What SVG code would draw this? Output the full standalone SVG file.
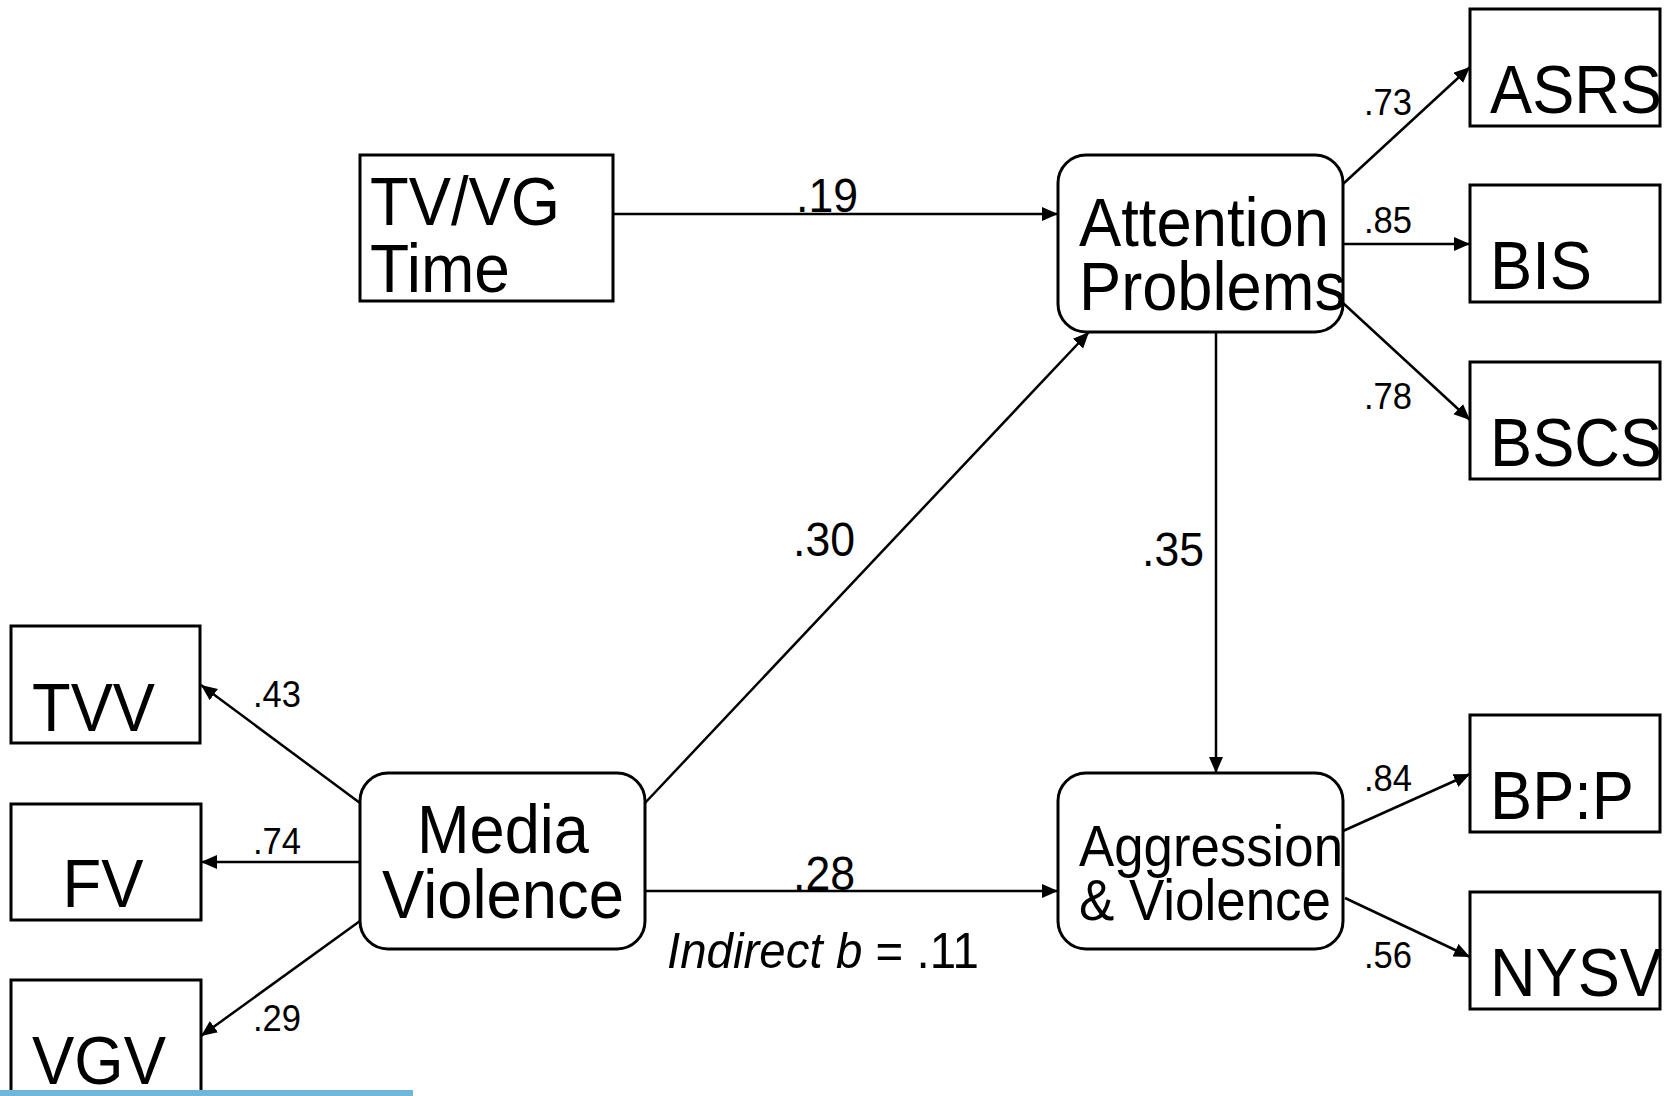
<svg xmlns="http://www.w3.org/2000/svg" width="1667" height="1096" viewBox="0 0 1667 1096">
  <style>
    .box { fill: #ffffff; stroke: #000000; stroke-width: 3; }
    .edge { fill: none; stroke: #000000; stroke-width: 2.5; marker-end: url(#arrow); }
    .big { font-family: "Liberation Sans", Arial, sans-serif; font-size: 68px; fill: #000; }
    .mid { font-family: "Liberation Sans", Arial, sans-serif; font-size: 57px; fill: #000; }
    .coef { font-family: "Liberation Sans", Arial, sans-serif; font-size: 48px; fill: #000; text-anchor: middle; }
    .load { font-family: "Liberation Sans", Arial, sans-serif; font-size: 37px; fill: #000; text-anchor: middle; }
  </style>
  <defs>
    <marker id="arrow" markerUnits="userSpaceOnUse" markerWidth="18" markerHeight="16" refX="16" refY="7" orient="auto">
      <path d="M0,0 L16,7 L0,14 z" fill="#000"/>
    </marker>
  </defs>
  <rect width="1667" height="1096" fill="#ffffff"/>

  <!-- connectors -->
  <g id="connectors">
    <line class="edge" x1="613" y1="214" x2="1058" y2="214"/>
    <line class="edge" x1="645" y1="803" x2="1089" y2="332"/>
    <line class="edge" x1="645" y1="891" x2="1058" y2="891"/>
    <line class="edge" x1="1216" y1="332" x2="1216" y2="773"/>
    <line class="edge" x1="1343" y1="184" x2="1470" y2="67"/>
    <line class="edge" x1="1343" y1="244" x2="1470" y2="244"/>
    <line class="edge" x1="1343" y1="303" x2="1470" y2="420"/>
    <line class="edge" x1="1343" y1="831" x2="1470" y2="774"/>
    <line class="edge" x1="1345" y1="898" x2="1470" y2="957"/>
    <line class="edge" x1="360" y1="803" x2="201" y2="685"/>
    <line class="edge" x1="360" y1="862" x2="201" y2="862"/>
    <line class="edge" x1="360" y1="921" x2="201" y2="1036"/>

    <text class="coef" x="827" y="212" textLength="62" lengthAdjust="spacingAndGlyphs">.19</text>
    <text class="coef" x="824" y="556" textLength="62" lengthAdjust="spacingAndGlyphs">.30</text>
    <text class="coef" x="824" y="890" textLength="62" lengthAdjust="spacingAndGlyphs">.28</text>
    <text class="coef" x="1173" y="566" textLength="62" lengthAdjust="spacingAndGlyphs">.35</text>
    <text transform="translate(667,968) scale(0.95,1)" font-family="Liberation Sans, Arial, sans-serif" font-size="50"><tspan font-style="italic">Indirect b</tspan> = .11</text>

    <text class="load" x="1388" y="115" textLength="48" lengthAdjust="spacingAndGlyphs">.73</text>
    <text class="load" x="1388" y="233" textLength="48" lengthAdjust="spacingAndGlyphs">.85</text>
    <text class="load" x="1388" y="409" textLength="48" lengthAdjust="spacingAndGlyphs">.78</text>
    <text class="load" x="1388" y="791" textLength="48" lengthAdjust="spacingAndGlyphs">.84</text>
    <text class="load" x="1388" y="968" textLength="48" lengthAdjust="spacingAndGlyphs">.56</text>
    <text class="load" x="277" y="707" textLength="48" lengthAdjust="spacingAndGlyphs">.43</text>
    <text class="load" x="277" y="854" textLength="48" lengthAdjust="spacingAndGlyphs">.74</text>
    <text class="load" x="277" y="1031" textLength="48" lengthAdjust="spacingAndGlyphs">.29</text>
  </g>

  <!-- observed predictor -->
  <g id="tvvg-time">
    <rect class="box" x="360" y="155" width="253" height="146"/>
    <text class="big" x="370" y="225" textLength="190" lengthAdjust="spacingAndGlyphs">TV/VG</text>
    <text class="big" x="370" y="292" textLength="140" lengthAdjust="spacingAndGlyphs">Time</text>
  </g>

  <!-- latent constructs -->
  <g id="attention-problems">
    <rect class="box" x="1058" y="155" width="285" height="177" rx="28" ry="28"/>
    <text class="big" x="1079" y="246" textLength="250" lengthAdjust="spacingAndGlyphs">Attention</text>
    <text class="big" x="1079" y="310" textLength="267" lengthAdjust="spacingAndGlyphs">Problems</text>
  </g>
  <g id="media-violence">
    <rect class="box" x="360" y="773" width="285" height="176" rx="28" ry="28"/>
    <text class="big" x="503" y="853" text-anchor="middle" textLength="172" lengthAdjust="spacingAndGlyphs">Media</text>
    <text class="big" x="503" y="918" text-anchor="middle" textLength="242" lengthAdjust="spacingAndGlyphs">Violence</text>
  </g>
  <g id="aggression-violence">
    <rect class="box" x="1058" y="773" width="285" height="176" rx="28" ry="28"/>
    <text class="mid" x="1079" y="866" textLength="264" lengthAdjust="spacingAndGlyphs">Aggression</text>
    <text class="mid" x="1079" y="920" textLength="252" lengthAdjust="spacingAndGlyphs">&amp; Violence</text>
  </g>

  <!-- indicators -->
  <g id="asrs">
    <rect class="box" x="1470" y="9" width="190" height="117"/>
    <text class="big" x="1490" y="113" textLength="172" lengthAdjust="spacingAndGlyphs">ASRS</text>
  </g>
  <g id="bis">
    <rect class="box" x="1470" y="185" width="190" height="117"/>
    <text class="big" x="1490" y="289" textLength="102" lengthAdjust="spacingAndGlyphs">BIS</text>
  </g>
  <g id="bscs">
    <rect class="box" x="1470" y="362" width="190" height="117"/>
    <text class="big" x="1490" y="466" textLength="172" lengthAdjust="spacingAndGlyphs">BSCS</text>
  </g>
  <g id="bpp">
    <rect class="box" x="1470" y="715" width="190" height="117"/>
    <text class="big" x="1490" y="819" textLength="144" lengthAdjust="spacingAndGlyphs">BP:P</text>
  </g>
  <g id="nysv">
    <rect class="box" x="1470" y="892" width="190" height="117"/>
    <text class="big" x="1490" y="996" textLength="172" lengthAdjust="spacingAndGlyphs">NYSV</text>
  </g>
  <g id="tvv">
    <rect class="box" x="11" y="626" width="189" height="117"/>
    <text class="big" x="32" y="731" textLength="123" lengthAdjust="spacingAndGlyphs">TVV</text>
  </g>
  <g id="fv">
    <rect class="box" x="11" y="804" width="190" height="116"/>
    <text class="big" x="103" y="907" text-anchor="middle" textLength="81" lengthAdjust="spacingAndGlyphs">FV</text>
  </g>
  <g id="vgv">
    <rect class="box" x="11" y="980" width="190" height="130"/>
    <text class="big" x="32" y="1084" textLength="134" lengthAdjust="spacingAndGlyphs">VGV</text>
  </g>

  <!-- footer bar -->
  <rect x="0" y="1090" width="413" height="6" fill="#6fb7da"/>
</svg>
